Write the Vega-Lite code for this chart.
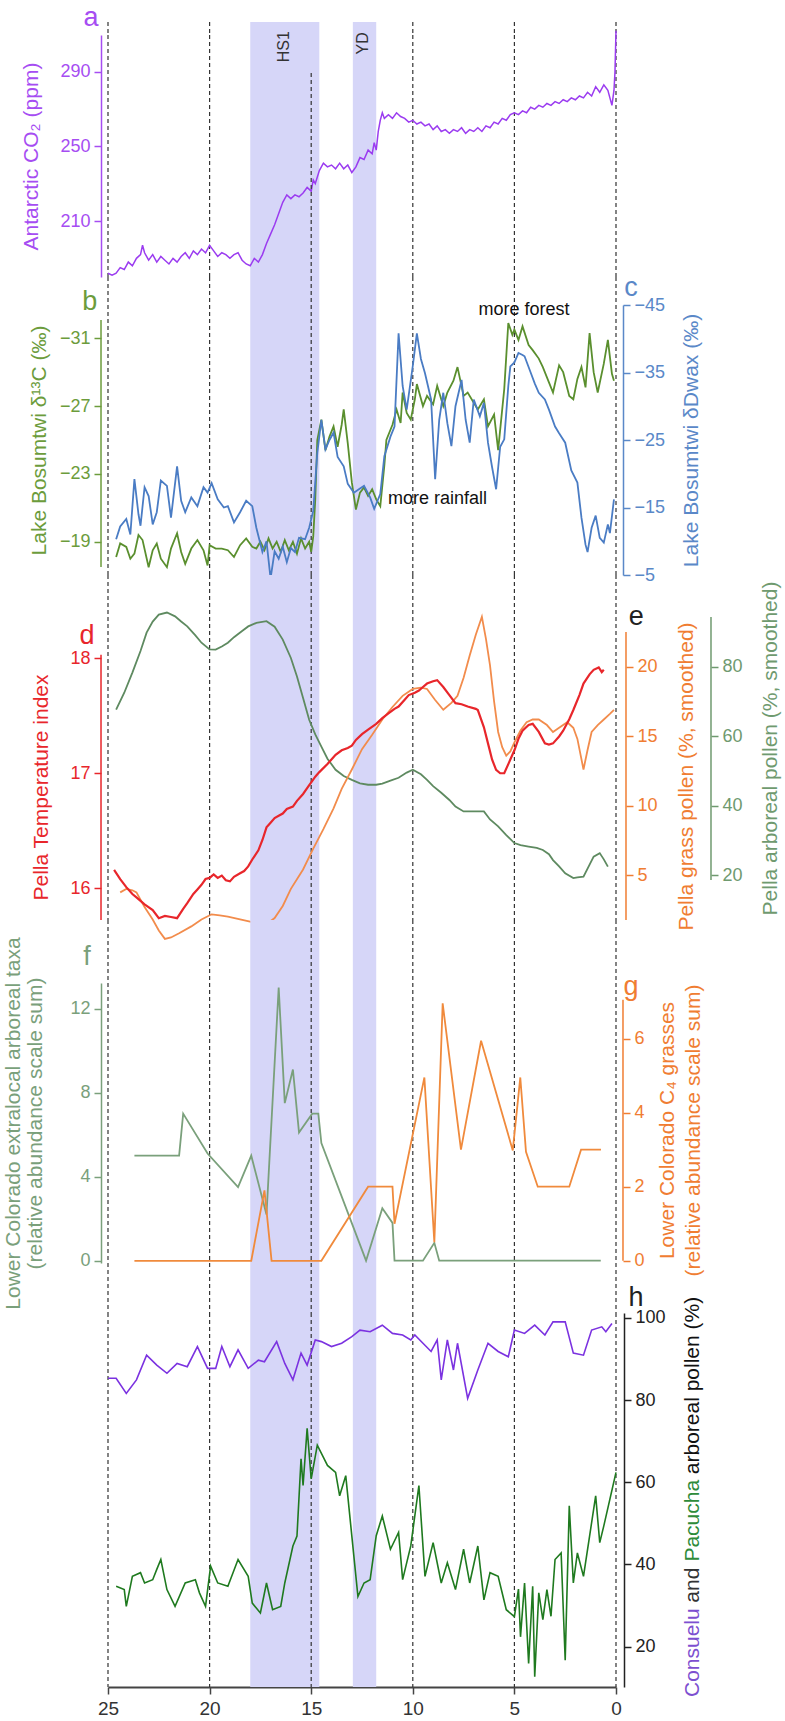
{
"$schema": "https://vega.github.io/schema/vega-lite/v6.json",
"padding": {"left": 2, "top": 4, "right": 5, "bottom": 0},
"spacing": 0,
"bounds": "flush",
"config": {"font": "Liberation Sans", "view": {"stroke": null}, "concat": {"spacing": 0},
  "axis": {"grid": false, "labelFontSize": 18, "titleFontSize": 21, "titleFontWeight": "normal", "tickSize": 7, "tickWidth": 1.5, "domainWidth": 1.5, "labelPadding": 4, "titlePadding": 8, "titleLineHeight": 23}},
"datasets": {
"bands": [{"age": 18, "end": 14.6}, {"age": 12.95, "end": 11.8}],
"grid": [{"age": 25}, {"age": 20}, {"age": 15}, {"age": 10}, {"age": 5}, {"age": 0}],
"co2": [{"age":25.0,"v":182},{"age":24.8,"v":181},{"age":24.6,"v":182},{"age":24.4,"v":185},{"age":24.2,"v":184},{"age":24.0,"v":188},{"age":23.8,"v":186},{"age":23.6,"v":190},{"age":23.4,"v":192},{"age":23.3,"v":197},{"age":23.2,"v":193},{"age":23.0,"v":189},{"age":22.8,"v":192},{"age":22.6,"v":188},{"age":22.4,"v":191},{"age":22.2,"v":189},{"age":22.0,"v":187},{"age":21.8,"v":190},{"age":21.6,"v":188},{"age":21.4,"v":191},{"age":21.2,"v":193},{"age":21.0,"v":190},{"age":20.8,"v":194},{"age":20.6,"v":192},{"age":20.4,"v":195},{"age":20.2,"v":193},{"age":20.0,"v":197},{"age":19.8,"v":194},{"age":19.6,"v":191},{"age":19.4,"v":193},{"age":19.2,"v":192},{"age":19.0,"v":190},{"age":18.8,"v":192},{"age":18.6,"v":193},{"age":18.4,"v":189},{"age":18.2,"v":187},{"age":18.0,"v":186},{"age":17.8,"v":190},{"age":17.6,"v":188},{"age":17.4,"v":192},{"age":17.2,"v":198},{"age":17.0,"v":203},{"age":16.8,"v":208},{"age":16.6,"v":214},{"age":16.4,"v":220},{"age":16.2,"v":224},{"age":16.0,"v":222},{"age":15.8,"v":224},{"age":15.6,"v":223},{"age":15.4,"v":225},{"age":15.2,"v":228},{"age":15.0,"v":226},{"age":14.9,"v":232},{"age":14.8,"v":230},{"age":14.6,"v":237},{"age":14.4,"v":241},{"age":14.2,"v":239},{"age":14.0,"v":240},{"age":13.8,"v":238},{"age":13.6,"v":241},{"age":13.4,"v":238},{"age":13.2,"v":240},{"age":13.0,"v":236},{"age":12.8,"v":239},{"age":12.6,"v":244},{"age":12.4,"v":243},{"age":12.2,"v":248},{"age":12.0,"v":246},{"age":11.9,"v":252},{"age":11.8,"v":248},{"age":11.7,"v":258},{"age":11.6,"v":264},{"age":11.5,"v":268},{"age":11.4,"v":265},{"age":11.2,"v":267},{"age":11.0,"v":265},{"age":10.8,"v":268},{"age":10.6,"v":266},{"age":10.4,"v":265},{"age":10.2,"v":263},{"age":10.0,"v":264},{"age":9.8,"v":262},{"age":9.6,"v":263},{"age":9.4,"v":261},{"age":9.2,"v":262},{"age":9.0,"v":259},{"age":8.8,"v":261},{"age":8.6,"v":258},{"age":8.4,"v":259},{"age":8.2,"v":257},{"age":8.0,"v":259},{"age":7.8,"v":258},{"age":7.6,"v":260},{"age":7.4,"v":257},{"age":7.2,"v":259},{"age":7.0,"v":258},{"age":6.8,"v":260},{"age":6.6,"v":258},{"age":6.4,"v":261},{"age":6.2,"v":260},{"age":6.0,"v":263},{"age":5.8,"v":262},{"age":5.6,"v":265},{"age":5.4,"v":264},{"age":5.2,"v":267},{"age":5.0,"v":268},{"age":4.8,"v":267},{"age":4.6,"v":269},{"age":4.4,"v":268},{"age":4.2,"v":271},{"age":4.0,"v":270},{"age":3.8,"v":272},{"age":3.6,"v":271},{"age":3.4,"v":273},{"age":3.2,"v":272},{"age":3.0,"v":274},{"age":2.8,"v":273},{"age":2.6,"v":275},{"age":2.4,"v":274},{"age":2.2,"v":276},{"age":2.0,"v":275},{"age":1.8,"v":277},{"age":1.6,"v":276},{"age":1.4,"v":279},{"age":1.2,"v":277},{"age":1.0,"v":282},{"age":0.8,"v":279},{"age":0.6,"v":283},{"age":0.4,"v":280},{"age":0.3,"v":276},{"age":0.2,"v":272},{"age":0.1,"v":280},{"age":0.05,"v":290},{"age":0.0,"v":312}],
"d13c": [{"age":24.6,"v":-18.1},{"age":24.4,"v":-18.9},{"age":24.1,"v":-18.7},{"age":23.9,"v":-18.0},{"age":23.7,"v":-18.3},{"age":23.5,"v":-19.4},{"age":23.3,"v":-19.1},{"age":23.0,"v":-17.5},{"age":22.8,"v":-18.5},{"age":22.6,"v":-18.9},{"age":22.4,"v":-18.0},{"age":22.1,"v":-17.5},{"age":21.9,"v":-18.6},{"age":21.6,"v":-19.5},{"age":21.4,"v":-18.4},{"age":21.2,"v":-17.7},{"age":20.9,"v":-18.6},{"age":20.6,"v":-19.1},{"age":20.3,"v":-18.5},{"age":20.1,"v":-17.6},{"age":20.0,"v":-18.8},{"age":19.7,"v":-18.6},{"age":19.4,"v":-18.6},{"age":19.1,"v":-18.5},{"age":18.8,"v":-18.1},{"age":18.5,"v":-18.8},{"age":18.2,"v":-19.2},{"age":17.9,"v":-18.7},{"age":17.7,"v":-18.6},{"age":17.5,"v":-19.0},{"age":17.3,"v":-18.5},{"age":17.1,"v":-19.2},{"age":16.9,"v":-18.6},{"age":16.7,"v":-19.0},{"age":16.5,"v":-18.4},{"age":16.3,"v":-19.1},{"age":16.1,"v":-18.5},{"age":15.9,"v":-19.0},{"age":15.7,"v":-18.3},{"age":15.5,"v":-19.2},{"age":15.3,"v":-18.6},{"age":15.1,"v":-19.0},{"age":15.0,"v":-18.4},{"age":14.9,"v":-19.3},{"age":14.8,"v":-21.5},{"age":14.7,"v":-25.0},{"age":14.5,"v":-26.2},{"age":14.3,"v":-24.4},{"age":14.1,"v":-25.2},{"age":13.9,"v":-25.8},{"age":13.7,"v":-24.6},{"age":13.5,"v":-25.9},{"age":13.4,"v":-26.8},{"age":13.2,"v":-24.8},{"age":13.0,"v":-22.5},{"age":12.8,"v":-20.9},{"age":12.6,"v":-21.9},{"age":12.4,"v":-22.2},{"age":12.2,"v":-21.7},{"age":12.0,"v":-22.1},{"age":11.8,"v":-21.5},{"age":11.6,"v":-21.1},{"age":11.4,"v":-23.5},{"age":11.3,"v":-25.0},{"age":11.0,"v":-25.9},{"age":10.8,"v":-26.8},{"age":10.6,"v":-26.0},{"age":10.5,"v":-27.8},{"age":10.3,"v":-26.6},{"age":10.1,"v":-26.2},{"age":9.9,"v":-27.4},{"age":9.8,"v":-28.3},{"age":9.5,"v":-27.0},{"age":9.3,"v":-27.6},{"age":9.0,"v":-27.1},{"age":8.8,"v":-28.2},{"age":8.5,"v":-27.0},{"age":8.3,"v":-27.8},{"age":8.0,"v":-28.5},{"age":7.8,"v":-29.3},{"age":7.5,"v":-27.6},{"age":7.3,"v":-27.8},{"age":7.0,"v":-27.2},{"age":6.8,"v":-26.8},{"age":6.5,"v":-27.4},{"age":6.3,"v":-25.8},{"age":6.0,"v":-26.5},{"age":5.8,"v":-24.4},{"age":5.5,"v":-28.0},{"age":5.3,"v":-31.9},{"age":5.1,"v":-31.2},{"age":5.0,"v":-31.5},{"age":4.8,"v":-30.9},{"age":4.6,"v":-31.7},{"age":4.3,"v":-30.6},{"age":4.1,"v":-30.3},{"age":3.8,"v":-29.8},{"age":3.6,"v":-29.3},{"age":3.3,"v":-28.4},{"age":3.1,"v":-27.8},{"age":2.8,"v":-29.4},{"age":2.6,"v":-29.0},{"age":2.3,"v":-27.6},{"age":2.1,"v":-27.4},{"age":1.9,"v":-28.6},{"age":1.7,"v":-29.3},{"age":1.5,"v":-28.1},{"age":1.3,"v":-31.3},{"age":1.1,"v":-29.0},{"age":0.9,"v":-27.8},{"age":0.6,"v":-29.5},{"age":0.4,"v":-30.9},{"age":0.2,"v":-28.9},{"age":0.1,"v":-28.5}],
"dD": [{"age":24.6,"v":-10.3},{"age":24.4,"v":-12.2},{"age":24.1,"v":-13.3},{"age":23.9,"v":-11.0},{"age":23.7,"v":-19.2},{"age":23.5,"v":-14.0},{"age":23.4,"v":-12.3},{"age":23.2,"v":-18.0},{"age":23.0,"v":-16.7},{"age":22.8,"v":-12.5},{"age":22.6,"v":-14.3},{"age":22.4,"v":-19.0},{"age":22.1,"v":-18.2},{"age":21.9,"v":-13.5},{"age":21.6,"v":-21.1},{"age":21.4,"v":-16.0},{"age":21.2,"v":-14.3},{"age":20.9,"v":-16.5},{"age":20.6,"v":-15.2},{"age":20.3,"v":-18.0},{"age":20.1,"v":-17.2},{"age":19.9,"v":-18.6},{"age":19.6,"v":-16.2},{"age":19.3,"v":-15.0},{"age":19.1,"v":-15.2},{"age":18.8,"v":-12.8},{"age":18.5,"v":-14.3},{"age":18.2,"v":-16.0},{"age":17.9,"v":-15.2},{"age":17.7,"v":-12.0},{"age":17.4,"v":-8.4},{"age":17.2,"v":-10.0},{"age":17.0,"v":-4.5},{"age":16.8,"v":-8.5},{"age":16.6,"v":-7.4},{"age":16.4,"v":-9.2},{"age":16.2,"v":-6.9},{"age":16.0,"v":-9.0},{"age":15.8,"v":-8.4},{"age":15.6,"v":-10.5},{"age":15.3,"v":-10.3},{"age":15.1,"v":-12.0},{"age":14.9,"v":-14.5},{"age":14.7,"v":-23.1},{"age":14.5,"v":-28.0},{"age":14.3,"v":-23.6},{"age":14.1,"v":-25.0},{"age":13.9,"v":-26.1},{"age":13.7,"v":-22.5},{"age":13.4,"v":-21.1},{"age":13.2,"v":-18.5},{"age":12.9,"v":-17.2},{"age":12.6,"v":-17.8},{"age":12.4,"v":-18.2},{"age":12.1,"v":-16.5},{"age":11.9,"v":-14.8},{"age":11.6,"v":-17.0},{"age":11.4,"v":-22.6},{"age":11.1,"v":-25.5},{"age":10.9,"v":-27.0},{"age":10.7,"v":-40.8},{"age":10.5,"v":-33.0},{"age":10.3,"v":-29.5},{"age":10.0,"v":-36.0},{"age":9.8,"v":-40.8},{"age":9.6,"v":-37.0},{"age":9.4,"v":-34.9},{"age":9.1,"v":-31.0},{"age":8.9,"v":-19.2},{"age":8.7,"v":-28.0},{"age":8.5,"v":-32.0},{"age":8.3,"v":-27.5},{"age":8.1,"v":-24.1},{"age":7.9,"v":-30.0},{"age":7.6,"v":-33.9},{"age":7.4,"v":-28.0},{"age":7.2,"v":-24.6},{"age":7.0,"v":-31.0},{"age":6.7,"v":-28.5},{"age":6.5,"v":-30.5},{"age":6.3,"v":-24.6},{"age":6.1,"v":-21.0},{"age":5.9,"v":-17.7},{"age":5.7,"v":-24.0},{"age":5.5,"v":-25.1},{"age":5.3,"v":-33.0},{"age":5.2,"v":-35.9},{"age":5.0,"v":-36.5},{"age":4.8,"v":-37.9},{"age":4.6,"v":-37.6},{"age":4.5,"v":-37.4},{"age":4.2,"v":-35.0},{"age":4.0,"v":-33.4},{"age":3.8,"v":-32.0},{"age":3.5,"v":-31.0},{"age":3.3,"v":-29.5},{"age":3.0,"v":-27.0},{"age":2.8,"v":-26.0},{"age":2.5,"v":-24.6},{"age":2.2,"v":-20.5},{"age":1.9,"v":-18.7},{"age":1.7,"v":-13.5},{"age":1.5,"v":-9.5},{"age":1.4,"v":-8.4},{"age":1.2,"v":-12.0},{"age":1.0,"v":-13.8},{"age":0.8,"v":-10.5},{"age":0.6,"v":-9.8},{"age":0.4,"v":-12.5},{"age":0.3,"v":-11.2},{"age":0.1,"v":-16.2}],
"ptemp": [{"age":24.7,"v":16.16},{"age":24.4,"v":16.08},{"age":24.1,"v":16.01},{"age":23.8,"v":15.95},{"age":23.6,"v":15.92},{"age":23.2,"v":15.86},{"age":22.8,"v":15.81},{"age":22.5,"v":15.74},{"age":22.2,"v":15.76},{"age":21.9,"v":15.75},{"age":21.6,"v":15.74},{"age":21.3,"v":15.82},{"age":21.1,"v":15.87},{"age":20.8,"v":15.95},{"age":20.6,"v":15.99},{"age":20.4,"v":16.03},{"age":20.2,"v":16.08},{"age":20.0,"v":16.09},{"age":19.8,"v":16.12},{"age":19.6,"v":16.09},{"age":19.4,"v":16.11},{"age":19.2,"v":16.07},{"age":19.0,"v":16.06},{"age":18.8,"v":16.1},{"age":18.5,"v":16.13},{"age":18.3,"v":16.15},{"age":18.1,"v":16.19},{"age":17.9,"v":16.25},{"age":17.6,"v":16.33},{"age":17.4,"v":16.42},{"age":17.2,"v":16.53},{"age":17.0,"v":16.57},{"age":16.8,"v":16.61},{"age":16.6,"v":16.63},{"age":16.4,"v":16.65},{"age":16.2,"v":16.69},{"age":15.9,"v":16.71},{"age":15.7,"v":16.76},{"age":15.4,"v":16.82},{"age":15.2,"v":16.87},{"age":15.0,"v":16.92},{"age":14.8,"v":16.97},{"age":14.6,"v":17.01},{"age":14.2,"v":17.08},{"age":13.8,"v":17.16},{"age":13.5,"v":17.2},{"age":13.2,"v":17.22},{"age":13.0,"v":17.24},{"age":12.8,"v":17.29},{"age":12.5,"v":17.34},{"age":12.2,"v":17.38},{"age":11.8,"v":17.43},{"age":11.5,"v":17.48},{"age":11.2,"v":17.52},{"age":10.9,"v":17.56},{"age":10.7,"v":17.58},{"age":10.4,"v":17.64},{"age":10.2,"v":17.68},{"age":9.9,"v":17.7},{"age":9.7,"v":17.72},{"age":9.5,"v":17.75},{"age":9.3,"v":17.78},{"age":9.0,"v":17.8},{"age":8.8,"v":17.81},{"age":8.5,"v":17.75},{"age":8.2,"v":17.68},{"age":7.9,"v":17.61},{"age":7.6,"v":17.6},{"age":7.3,"v":17.58},{"age":6.9,"v":17.56},{"age":6.8,"v":17.55},{"age":6.5,"v":17.4},{"age":6.3,"v":17.26},{"age":6.1,"v":17.12},{"age":5.9,"v":17.03},{"age":5.7,"v":17.0},{"age":5.5,"v":17.0},{"age":5.3,"v":17.08},{"age":5.0,"v":17.2},{"age":4.8,"v":17.3},{"age":4.6,"v":17.37},{"age":4.3,"v":17.42},{"age":4.1,"v":17.43},{"age":3.8,"v":17.36},{"age":3.5,"v":17.26},{"age":3.3,"v":17.25},{"age":3.1,"v":17.26},{"age":2.8,"v":17.32},{"age":2.6,"v":17.37},{"age":2.3,"v":17.47},{"age":2.1,"v":17.55},{"age":1.8,"v":17.68},{"age":1.6,"v":17.78},{"age":1.3,"v":17.86},{"age":1.1,"v":17.9},{"age":0.85,"v":17.92},{"age":0.7,"v":17.88},{"age":0.6,"v":17.9}],
"pgrass": [{"age":24.4,"v":3.75},{"age":24.1,"v":4.0},{"age":23.8,"v":3.9},{"age":23.6,"v":3.75},{"age":23.2,"v":2.7},{"age":22.8,"v":1.8},{"age":22.5,"v":1.0},{"age":22.2,"v":0.4},{"age":21.9,"v":0.5},{"age":21.5,"v":0.8},{"age":20.9,"v":1.3},{"age":20.4,"v":1.8},{"age":19.9,"v":2.17},{"age":19.5,"v":2.1},{"age":19.1,"v":2.0},{"age":18.5,"v":1.8},{"age":17.9,"v":1.6},{"age":17.5,"v":1.5},{"age":17.2,"v":1.45},{"age":16.8,"v":1.9},{"age":16.4,"v":2.77},{"age":16.0,"v":4.0},{"age":15.4,"v":5.4},{"age":14.9,"v":6.9},{"age":14.4,"v":8.3},{"age":13.9,"v":9.8},{"age":13.5,"v":11.2},{"age":13.0,"v":12.6},{"age":12.5,"v":14.06},{"age":12.0,"v":15.1},{"age":11.5,"v":16.2},{"age":11.0,"v":17.1},{"age":10.5,"v":17.9},{"age":10.0,"v":18.4},{"age":9.6,"v":18.5},{"age":9.3,"v":18.4},{"age":8.9,"v":17.6},{"age":8.5,"v":16.9},{"age":8.1,"v":17.4},{"age":7.8,"v":17.9},{"age":7.5,"v":19.2},{"age":7.2,"v":20.8},{"age":6.9,"v":22.3},{"age":6.6,"v":23.6},{"age":6.4,"v":22.0},{"age":6.2,"v":20.1},{"age":6.0,"v":17.5},{"age":5.8,"v":15.3},{"age":5.6,"v":14.2},{"age":5.4,"v":13.6},{"age":5.2,"v":13.9},{"age":5.0,"v":14.55},{"age":4.7,"v":15.4},{"age":4.4,"v":16.0},{"age":4.1,"v":16.2},{"age":3.8,"v":16.2},{"age":3.4,"v":15.8},{"age":3.1,"v":15.3},{"age":2.8,"v":15.6},{"age":2.4,"v":16.0},{"age":2.1,"v":15.6},{"age":1.9,"v":14.8},{"age":1.6,"v":12.6},{"age":1.4,"v":14.0},{"age":1.2,"v":15.3},{"age":0.9,"v":15.8},{"age":0.6,"v":16.2},{"age":0.3,"v":16.6},{"age":0.1,"v":16.9}],
"parb": [{"age":24.6,"v":67.6},{"age":24.2,"v":72.5},{"age":23.8,"v":78.3},{"age":23.4,"v":84.5},{"age":23.1,"v":89.8},{"age":22.8,"v":93.0},{"age":22.5,"v":95.0},{"age":22.1,"v":95.6},{"age":21.7,"v":94.5},{"age":21.4,"v":93.0},{"age":21.1,"v":91.6},{"age":20.7,"v":89.0},{"age":20.4,"v":86.9},{"age":20.0,"v":85.0},{"age":19.7,"v":84.9},{"age":19.4,"v":85.8},{"age":19.1,"v":86.9},{"age":18.8,"v":88.5},{"age":18.4,"v":90.3},{"age":18.1,"v":91.6},{"age":17.7,"v":92.6},{"age":17.2,"v":93.1},{"age":16.8,"v":91.5},{"age":16.4,"v":87.8},{"age":16.0,"v":82.5},{"age":15.7,"v":77.2},{"age":15.4,"v":71.0},{"age":15.1,"v":64.7},{"age":14.8,"v":60.5},{"age":14.5,"v":57.0},{"age":14.2,"v":53.5},{"age":13.8,"v":50.3},{"age":13.4,"v":48.5},{"age":13.0,"v":47.4},{"age":12.6,"v":46.4},{"age":12.2,"v":46.0},{"age":11.8,"v":46.0},{"age":11.5,"v":46.3},{"age":11.1,"v":47.2},{"age":10.7,"v":48.0},{"age":10.3,"v":49.5},{"age":10.0,"v":50.3},{"age":9.6,"v":49.0},{"age":9.3,"v":47.4},{"age":9.0,"v":45.6},{"age":8.6,"v":43.7},{"age":8.2,"v":41.6},{"age":7.9,"v":39.7},{"age":7.5,"v":38.3},{"age":7.2,"v":38.3},{"age":6.8,"v":38.3},{"age":6.5,"v":38.3},{"age":6.2,"v":36.0},{"age":5.8,"v":34.0},{"age":5.4,"v":31.5},{"age":5.0,"v":29.2},{"age":4.7,"v":28.6},{"age":4.3,"v":28.2},{"age":3.9,"v":27.8},{"age":3.6,"v":27.2},{"age":3.3,"v":26.0},{"age":3.1,"v":24.3},{"age":2.8,"v":22.5},{"age":2.5,"v":20.5},{"age":2.1,"v":19.1},{"age":1.9,"v":19.3},{"age":1.6,"v":19.5},{"age":1.3,"v":23.0},{"age":1.1,"v":25.3},{"age":0.8,"v":26.3},{"age":0.6,"v":24.5},{"age":0.4,"v":22.4}],
"lcarb": [{"age":23.7,"v":5.0},{"age":21.5,"v":5.0},{"age":21.3,"v":7.0},{"age":20.1,"v":5.1},{"age":18.6,"v":3.5},{"age":17.95,"v":5.0},{"age":17.2,"v":2.2},{"age":16.6,"v":13.0},{"age":16.3,"v":7.5},{"age":15.9,"v":9.1},{"age":15.6,"v":6.1},{"age":14.95,"v":7.0},{"age":14.65,"v":7.0},{"age":14.5,"v":5.6},{"age":12.3,"v":0},{"age":11.5,"v":2.5},{"age":11.0,"v":1.8},{"age":10.9,"v":0},{"age":9.5,"v":0},{"age":8.94,"v":0.85},{"age":8.7,"v":0},{"age":0.75,"v":0}],
"lcc4": [{"age":23.7,"v":0},{"age":17.95,"v":0},{"age":17.3,"v":1.9},{"age":16.95,"v":0},{"age":14.5,"v":0},{"age":12.2,"v":2.0},{"age":11.0,"v":2.0},{"age":10.9,"v":1.0},{"age":9.43,"v":4.95},{"age":8.94,"v":0.5},{"age":8.53,"v":6.95},{"age":7.63,"v":3.0},{"age":6.64,"v":5.94},{"age":5.08,"v":2.98},{"age":4.71,"v":4.95},{"age":4.43,"v":2.94},{"age":3.85,"v":2.0},{"age":2.3,"v":2.0},{"age":1.72,"v":3.0},{"age":0.74,"v":3.0}],
"consuelo": [{"age":25.0,"v":85.3},{"age":24.6,"v":85.3},{"age":24.1,"v":81.6},{"age":23.6,"v":84.9},{"age":23.1,"v":90.9},{"age":22.6,"v":88.5},{"age":22.1,"v":86.5},{"age":21.6,"v":88.9},{"age":21.1,"v":88.1},{"age":20.6,"v":93.0},{"age":20.1,"v":87.7},{"age":19.7,"v":87.7},{"age":19.4,"v":93.0},{"age":19.0,"v":88.1},{"age":18.6,"v":92.2},{"age":18.1,"v":87.7},{"age":17.6,"v":89.7},{"age":17.3,"v":89.3},{"age":16.7,"v":94.2},{"age":16.3,"v":88.9},{"age":15.9,"v":84.9},{"age":15.5,"v":91.4},{"age":15.2,"v":88.5},{"age":14.8,"v":94.6},{"age":14.5,"v":94.2},{"age":14.0,"v":93.0},{"age":13.5,"v":93.8},{"age":13.0,"v":95.4},{"age":12.6,"v":97.0},{"age":12.1,"v":96.6},{"age":11.5,"v":98.2},{"age":11.0,"v":96.2},{"age":10.5,"v":95.8},{"age":10.1,"v":94.6},{"age":9.9,"v":95.8},{"age":9.5,"v":93.8},{"age":9.1,"v":91.8},{"age":8.8,"v":94.6},{"age":8.6,"v":84.9},{"age":8.3,"v":94.6},{"age":8.0,"v":87.3},{"age":7.8,"v":93.8},{"age":7.3,"v":80.4},{"age":6.8,"v":87.3},{"age":6.3,"v":93.8},{"age":5.8,"v":91.8},{"age":5.3,"v":90.5},{"age":5.0,"v":97.0},{"age":4.5,"v":96.2},{"age":4.0,"v":98.2},{"age":3.5,"v":95.8},{"age":3.1,"v":99.0},{"age":2.5,"v":99.0},{"age":2.1,"v":91.4},{"age":1.6,"v":90.9},{"age":1.2,"v":97.0},{"age":0.7,"v":97.8},{"age":0.5,"v":96.6},{"age":0.2,"v":98.6}],
"pacucha": [{"age":24.6,"v":34.7},{"age":24.2,"v":33.9},{"age":24.1,"v":29.8},{"age":23.8,"v":37.1},{"age":23.4,"v":38.0},{"age":23.2,"v":35.5},{"age":22.8,"v":36.3},{"age":22.6,"v":38.8},{"age":22.4,"v":41.2},{"age":22.1,"v":33.9},{"age":21.7,"v":29.8},{"age":21.2,"v":35.5},{"age":20.7,"v":36.3},{"age":20.5,"v":33.1},{"age":20.2,"v":29.8},{"age":19.95,"v":39.6},{"age":19.6,"v":35.5},{"age":19.1,"v":34.7},{"age":18.6,"v":41.2},{"age":18.1,"v":37.1},{"age":17.9,"v":30.6},{"age":17.5,"v":28.2},{"age":17.2,"v":35.5},{"age":16.9,"v":29.0},{"age":16.5,"v":29.8},{"age":16.3,"v":35.5},{"age":15.9,"v":44.5},{"age":15.7,"v":46.9},{"age":15.5,"v":65.7},{"age":15.4,"v":59.2},{"age":15.2,"v":73.1},{"age":15.0,"v":60.8},{"age":14.7,"v":69.0},{"age":14.2,"v":64.1},{"age":13.8,"v":62.4},{"age":13.6,"v":56.7},{"age":13.3,"v":61.6},{"age":13.0,"v":46.9},{"age":12.7,"v":32.2},{"age":12.4,"v":35.5},{"age":12.1,"v":36.3},{"age":11.8,"v":47.0},{"age":11.5,"v":51.8},{"age":11.1,"v":43.7},{"age":10.7,"v":47.8},{"age":10.5,"v":36.3},{"age":10.1,"v":44.5},{"age":9.7,"v":59.2},{"age":9.4,"v":37.1},{"age":9.0,"v":45.3},{"age":8.6,"v":35.5},{"age":8.3,"v":40.4},{"age":7.9,"v":33.9},{"age":7.5,"v":43.7},{"age":7.2,"v":35.5},{"age":6.8,"v":44.5},{"age":6.5,"v":31.4},{"age":6.2,"v":38.0},{"age":5.8,"v":37.1},{"age":5.4,"v":29.0},{"age":5.0,"v":27.3},{"age":4.8,"v":34.0},{"age":4.7,"v":22.4},{"age":4.5,"v":35.5},{"age":4.3,"v":15.9},{"age":4.1,"v":34.7},{"age":4.0,"v":12.7},{"age":3.8,"v":33.1},{"age":3.6,"v":26.6},{"age":3.4,"v":33.9},{"age":3.2,"v":27.4},{"age":3.0,"v":41.2},{"age":2.7,"v":42.8},{"age":2.5,"v":16.7},{"age":2.3,"v":54.3},{"age":2.1,"v":35.5},{"age":1.9,"v":42.8},{"age":1.6,"v":37.1},{"age":1.3,"v":46.9},{"age":1.0,"v":56.7},{"age":0.8,"v":45.3},{"age":0.6,"v":49.4},{"age":0.3,"v":55.9},{"age":0.0,"v":62.4}]
},
"vconcat": [
{"width": 508, "height": 13,
 "encoding": {"x": {"field": "age", "type": "quantitative", "scale": {"domain": [25, 0], "nice": false, "zero": false}, "axis": null}},
 "layer": [
  {"data": {"name": "bands"}, "mark": {"type": "rect", "color": "#d6d6f8"}, "encoding": {"x2": {"field": "end"}}},
  {"data": {"name": "grid"}, "transform": [{"filter": "datum.age != 15"}], "mark": {"type": "rule", "color": "#333", "strokeDash": [4, 3], "strokeWidth": 1.2}, "encoding": {}}
 ]},
{"width": 508, "height": 242,
 "encoding": {"x": {"field": "age", "type": "quantitative", "scale": {"domain": [25, 0], "nice": false, "zero": false}, "axis": null}},
 "layer": [
  {"data": {"name": "bands"}, "mark": {"type": "rect", "color": "#d6d6f8"}, "encoding": {"x2": {"field": "end"}}},
  {"data": {"name": "grid"}, "transform": [{"filter": "datum.age != 15"}], "mark": {"type": "rule", "color": "#333", "strokeDash": [4, 3], "strokeWidth": 1.2}, "encoding": {}},
  {"data": {"name": "co2"}, "mark": {"type": "line", "color": "#9b3cf0", "strokeWidth": 1.5},
   "encoding": {"y": {"field": "v", "type": "quantitative", "scale": {"domain": [180, 309.7], "nice": false, "zero": false},
     "axis": {"orient": "left", "offset": 7, "values": [210, 250, 290], "title": "Antarctic CO₂ (ppm)", "titlePadding": 18, "domainColor": "#a64df2", "tickColor": "#a64df2", "labelColor": "#a64df2", "titleColor": "#a64df2"}}}},
  {"data": {"name": "grid"}, "transform": [{"filter": "datum.age == 15"}], "mark": {"type": "rule", "color": "#333", "strokeDash": [4, 3], "strokeWidth": 1.2}, "encoding": {"y": {"datum": 289.3}, "y2": {"datum": 180}}},
  {"data": {"name": "grid"}, "transform": [{"filter": "datum.age == 25"}], "mark": {"type": "text", "text": "a", "fontSize": 27, "color": "#a64df2"}, "encoding": {"x": {"datum": 25.84}, "y": {"datum": 318.8}}},
  {"data": {"name": "grid"}, "transform": [{"filter": "datum.age == 25"}], "mark": {"type": "text", "text": "HS1", "fontSize": 16, "angle": 270, "color": "#333"}, "encoding": {"x": {"datum": 16.32}, "y": {"datum": 303.4}}},
  {"data": {"name": "grid"}, "transform": [{"filter": "datum.age == 25"}], "mark": {"type": "text", "text": "YD", "fontSize": 16, "angle": 270, "color": "#333"}, "encoding": {"x": {"datum": 12.47}, "y": {"datum": 305.2}}}
 ]},
{"width": 508, "height": 28,
 "encoding": {"x": {"field": "age", "type": "quantitative", "scale": {"domain": [25, 0], "nice": false, "zero": false}, "axis": null}},
 "layer": [
  {"data": {"name": "bands"}, "mark": {"type": "rect", "color": "#d6d6f8"}, "encoding": {"x2": {"field": "end"}}},
  {"data": {"name": "grid"}, "mark": {"type": "rule", "color": "#333", "strokeDash": [4, 3], "strokeWidth": 1.2}, "encoding": {}}
 ]},
{"width": 508, "height": 270,
 "encoding": {"x": {"field": "age", "type": "quantitative", "scale": {"domain": [25, 0], "nice": false, "zero": false}, "axis": null}},
 "layer": [
  {"data": {"name": "bands"}, "mark": {"type": "rect", "color": "#d6d6f8"}, "encoding": {"x2": {"field": "end"}}},
  {"data": {"name": "grid"}, "mark": {"type": "rule", "color": "#333", "strokeDash": [4, 3], "strokeWidth": 1.2}, "encoding": {}},
  {"layer": [
    {"data": {"name": "d13c"}, "mark": {"type": "line", "color": "#5a8f2e", "strokeWidth": 1.8},
     "encoding": {"y": {"field": "v", "type": "quantitative", "scale": {"domain": [-32.96, -17.04], "reverse": true, "nice": false, "zero": false},
       "axis": {"orient": "left", "offset": 7, "domain": false, "values": [-31, -27, -23, -19], "title": "Lake Bosumtwi δ¹³C (‰)", "titlePadding": 10, "tickColor": "#6c9c3c", "labelColor": "#6c9c3c", "titleColor": "#6c9c3c"}}}},
    {"data": {"name": "grid"}, "transform": [{"filter": "datum.age == 25"}], "mark": {"type": "rule", "color": "#6c9c3c", "strokeWidth": 1.5}, "encoding": {"x": {"datum": 25.344}, "y": {"datum": -32.08}, "y2": {"datum": -17.51}}},
    {"data": {"name": "grid"}, "transform": [{"filter": "datum.age == 25"}], "mark": {"type": "text", "text": "b", "fontSize": 27, "color": "#6c9c3c"}, "encoding": {"x": {"datum": 25.9}, "y": {"datum": -33.16}}}
  ]},
  {"layer": [
    {"data": {"name": "dD"}, "mark": {"type": "line", "color": "#4a7cc4", "strokeWidth": 1.8},
     "encoding": {"y": {"field": "v", "type": "quantitative", "scale": {"domain": [-45, -5], "reverse": true, "nice": false, "zero": false},
       "axis": {"orient": "right", "offset": 7, "values": [-45, -35, -25, -15, -5], "title": "Lake Bosumtwi δDwax (‰)", "titlePadding": 16, "titleAngle": 270, "titleBaseline": "top", "domainColor": "#5a88c8", "tickColor": "#5a88c8", "labelColor": "#5a88c8", "titleColor": "#5a88c8"}}}},
    {"data": {"name": "grid"}, "transform": [{"filter": "datum.age == 25"}], "mark": {"type": "text", "text": "c", "fontSize": 27, "color": "#5a88c8"}, "encoding": {"x": {"datum": -0.74}, "y": {"datum": -47.5}}},
    {"data": {"name": "grid"}, "transform": [{"filter": "datum.age == 25"}], "mark": {"type": "text", "text": "more forest", "fontSize": 18, "color": "#111"}, "encoding": {"x": {"datum": 4.53}, "y": {"datum": -44.33}}},
    {"data": {"name": "grid"}, "transform": [{"filter": "datum.age == 25"}], "mark": {"type": "text", "text": "more rainfall", "fontSize": 18, "color": "#111"}, "encoding": {"x": {"datum": 8.78}, "y": {"datum": -16.2}}}
  ]}
 ],
 "resolve": {"scale": {"y": "independent"}}},
{"width": 508, "height": 42,
 "encoding": {"x": {"field": "age", "type": "quantitative", "scale": {"domain": [25, 0], "nice": false, "zero": false}, "axis": null}},
 "layer": [
  {"data": {"name": "bands"}, "mark": {"type": "rect", "color": "#d6d6f8"}, "encoding": {"x2": {"field": "end"}}},
  {"data": {"name": "grid"}, "mark": {"type": "rule", "color": "#333", "strokeDash": [4, 3], "strokeWidth": 1.2}, "encoding": {}}
 ]},
{"width": 508, "height": 303,
 "encoding": {"x": {"field": "age", "type": "quantitative", "scale": {"domain": [25, 0], "nice": false, "zero": false}, "axis": null}},
 "layer": [
  {"data": {"name": "bands"}, "mark": {"type": "rect", "color": "#d6d6f8"}, "encoding": {"x2": {"field": "end"}}},
  {"data": {"name": "grid"}, "mark": {"type": "rule", "color": "#333", "strokeDash": [4, 3], "strokeWidth": 1.2}, "encoding": {}},
  {"layer": [
    {"data": {"name": "parb"}, "mark": {"type": "line", "color": "#5e8a60", "strokeWidth": 1.8},
     "encoding": {"y": {"field": "v", "type": "quantitative", "scale": {"domain": [7.04, 94.31], "nice": false, "zero": false},
       "axis": {"orient": "right", "offset": 95, "domain": false, "values": [20, 40, 60, 80], "title": "Pella arboreal pollen (%, smoothed)", "titlePadding": 17, "titleAngle": 270, "titleBaseline": "top", "titleY": 131, "tickColor": "#6f9a6f", "labelColor": "#6f9a6f", "titleColor": "#6f9a6f"}}}},
    {"data": {"name": "grid"}, "transform": [{"filter": "datum.age == 25"}], "mark": {"type": "rule", "color": "#6f9a6f", "strokeWidth": 1.5}, "encoding": {"x": {"datum": -4.675}, "y": {"datum": 94.31}, "y2": {"datum": 18.56}}}
  ]},
  {"layer": [
    {"data": {"name": "pgrass"}, "mark": {"type": "line", "color": "#f28c4c", "strokeWidth": 1.8},
     "encoding": {"y": {"field": "v", "type": "quantitative", "scale": {"domain": [1.76, 23.58], "nice": false, "zero": false},
       "axis": {"orient": "right", "offset": 10, "domain": false, "values": [5, 10, 15, 20], "title": "Pella grass pollen (%, smoothed)", "titlePadding": 18, "titleAngle": 270, "titleBaseline": "top", "titleY": 159, "tickColor": "#f07d32", "labelColor": "#f07d32", "titleColor": "#f07d32"}}}},
    {"data": {"name": "grid"}, "transform": [{"filter": "datum.age == 25"}], "mark": {"type": "rule", "color": "#f07d32", "strokeWidth": 1.5}, "encoding": {"x": {"datum": -0.492}, "y": {"datum": 22.5}, "y2": {"datum": 1.76}}},
    {"data": {"name": "grid"}, "transform": [{"filter": "datum.age == 25"}], "mark": {"type": "text", "text": "e", "fontSize": 27, "color": "#222"}, "encoding": {"x": {"datum": -1.0}, "y": {"datum": 23.6}}}
  ]},
  {"layer": [
    {"data": {"name": "ptemp"}, "mark": {"type": "line", "color": "#e8262b", "strokeWidth": 2.2},
     "encoding": {"y": {"field": "v", "type": "quantitative", "scale": {"domain": [15.724, 18.359], "nice": false, "zero": false},
       "axis": {"orient": "left", "offset": 7, "domain": false, "values": [16, 17, 18], "format": "d", "title": "Pella Temperature index", "titlePadding": 18, "titleY": 170, "tickColor": "#e8262b", "labelColor": "#e8262b", "titleColor": "#e8262b"}}}},
    {"data": {"name": "grid"}, "transform": [{"filter": "datum.age == 25"}], "mark": {"type": "rule", "color": "#e8262b", "strokeWidth": 1.5}, "encoding": {"x": {"datum": 25.344}, "y": {"datum": 18.03}, "y2": {"datum": 15.724}}},
    {"data": {"name": "grid"}, "transform": [{"filter": "datum.age == 25"}], "mark": {"type": "text", "text": "d", "fontSize": 27, "color": "#e8262b"}, "encoding": {"x": {"datum": 26.03}, "y": {"datum": 18.19}}}
  ]}
 ],
 "resolve": {"scale": {"y": "independent"}}},
{"width": 508, "height": 63,
 "encoding": {"x": {"field": "age", "type": "quantitative", "scale": {"domain": [25, 0], "nice": false, "zero": false}, "axis": null}},
 "layer": [
  {"data": {"name": "bands"}, "mark": {"type": "rect", "color": "#d6d6f8"}, "encoding": {"x2": {"field": "end"}}},
  {"data": {"name": "grid"}, "mark": {"type": "rule", "color": "#333", "strokeDash": [4, 3], "strokeWidth": 1.2}, "encoding": {}}
 ]},
{"width": 508, "height": 280,
 "encoding": {"x": {"field": "age", "type": "quantitative", "scale": {"domain": [25, 0], "nice": false, "zero": false}, "axis": null}},
 "layer": [
  {"data": {"name": "bands"}, "mark": {"type": "rect", "color": "#d6d6f8"}, "encoding": {"x2": {"field": "end"}}},
  {"data": {"name": "grid"}, "mark": {"type": "rule", "color": "#333", "strokeDash": [4, 3], "strokeWidth": 1.2}, "encoding": {}},
  {"layer": [
    {"data": {"name": "lcarb"}, "mark": {"type": "line", "color": "#7aa07b", "strokeWidth": 1.8},
     "encoding": {"y": {"field": "v", "type": "quantitative", "scale": {"domain": [-0.11, 13.22], "nice": false, "zero": false},
       "axis": {"orient": "left", "offset": 7, "values": [0, 4, 8, 12], "title": ["Lower Colorado extralocal arboreal taxa", "(relative abundance scale sum)"], "titlePadding": 24, "titleLineHeight": 22, "domainColor": "#7aa07b", "tickColor": "#7aa07b", "labelColor": "#7aa07b", "titleColor": "#7aa07b"}}}},
    {"data": {"name": "grid"}, "transform": [{"filter": "datum.age == 25"}], "mark": {"type": "text", "text": "f", "fontSize": 27, "color": "#7aa07b"}, "encoding": {"x": {"datum": 26.03}, "y": {"datum": 14.48}}}
  ]},
  {"layer": [
    {"data": {"name": "lcc4"}, "mark": {"type": "line", "color": "#f08a3c", "strokeWidth": 1.8},
     "encoding": {"y": {"field": "v", "type": "quantitative", "scale": {"domain": [-0.06, 7.5], "nice": false, "zero": false},
       "axis": {"orient": "right", "offset": 7, "domain": false, "values": [0, 2, 4, 6], "title": ["Lower Colorado C₄ grasses", "(relative abundance scale sum)"], "titlePadding": -14, "titleLineHeight": 26, "titleAngle": 270, "titleBaseline": "top", "titleY": 147, "tickColor": "#f07d32", "labelColor": "#f07d32", "titleColor": "#f07d32"}}}},
    {"data": {"name": "grid"}, "transform": [{"filter": "datum.age == 25"}], "mark": {"type": "rule", "color": "#f07d32", "strokeWidth": 1.5}, "encoding": {"x": {"datum": -0.344}, "y": {"datum": 7.05}, "y2": {"datum": 0}}},
    {"data": {"name": "grid"}, "transform": [{"filter": "datum.age == 25"}], "mark": {"type": "text", "text": "g", "fontSize": 27, "color": "#f07d32"}, "encoding": {"x": {"datum": -0.74}, "y": {"datum": 7.4}}}
  ]}
 ],
 "resolve": {"scale": {"y": "independent"}}},
{"width": 508, "height": 50,
 "encoding": {"x": {"field": "age", "type": "quantitative", "scale": {"domain": [25, 0], "nice": false, "zero": false}, "axis": null}},
 "layer": [
  {"data": {"name": "bands"}, "mark": {"type": "rect", "color": "#d6d6f8"}, "encoding": {"x2": {"field": "end"}}},
  {"data": {"name": "grid"}, "mark": {"type": "rule", "color": "#333", "strokeDash": [4, 3], "strokeWidth": 1.2}, "encoding": {}}
 ]},
{"width": 508, "height": 374,
 "encoding": {"x": {"field": "age", "type": "quantitative", "scale": {"domain": [25, 0], "nice": false, "zero": false},
   "axis": {"values": [25, 20, 15, 10, 5, 0], "title": null, "domainColor": "#444", "domainWidth": 2, "tickColor": "#444", "tickWidth": 1.5, "tickSize": 7, "labelFontSize": 19, "labelColor": "#333", "labelPadding": 5, "labelFlush": false}}},
 "layer": [
  {"data": {"name": "bands"}, "mark": {"type": "rect", "color": "#d6d6f8"}, "encoding": {"x2": {"field": "end"}}},
  {"data": {"name": "grid"}, "mark": {"type": "rule", "color": "#333", "strokeDash": [4, 3], "strokeWidth": 1.2}, "encoding": {}},
  {"data": {"name": "consuelo"}, "mark": {"type": "line", "color": "#7b32e0", "strokeWidth": 1.6},
   "encoding": {"y": {"field": "v", "type": "quantitative", "scale": {"domain": [10.2, 101.16], "nice": false, "zero": false},
     "axis": {"orient": "right", "offset": 8, "values": [20, 40, 60, 80, 100], "title": null, "domainColor": "#222", "tickColor": "#222", "labelColor": "#222"}}}},
  {"data": {"name": "pacucha"}, "mark": {"type": "line", "color": "#1f7a1f", "strokeWidth": 1.6}, "encoding": {"y": {"field": "v", "type": "quantitative"}}},
  {"data": {"name": "grid"}, "transform": [{"filter": "datum.age == 25"}], "mark": {"type": "text", "text": "h", "fontSize": 27, "color": "#222"}, "encoding": {"x": {"datum": -0.98}, "y": {"datum": 104.8}}},
  {"data": {"name": "grid"}, "transform": [{"filter": "datum.age == 25"}], "mark": {"type": "text", "text": "Consuelu", "fontSize": 21, "angle": 270, "align": "left", "baseline": "middle", "color": "#7d4fd0"}, "encoding": {"x": {"datum": -3.79}, "y": {"datum": 7.76}}},
  {"data": {"name": "grid"}, "transform": [{"filter": "datum.age == 25"}], "mark": {"type": "text", "text": "and", "fontSize": 21, "angle": 270, "align": "left", "baseline": "middle", "color": "#333"}, "encoding": {"x": {"datum": -3.79}, "y": {"datum": 30.7}}},
  {"data": {"name": "grid"}, "transform": [{"filter": "datum.age == 25"}], "mark": {"type": "text", "text": "Pacucha", "fontSize": 21, "angle": 270, "align": "left", "baseline": "middle", "color": "#2e8b3a"}, "encoding": {"x": {"datum": -3.79}, "y": {"datum": 40.7}}},
  {"data": {"name": "grid"}, "transform": [{"filter": "datum.age == 25"}], "mark": {"type": "text", "text": "arboreal pollen (%)", "fontSize": 21, "angle": 270, "align": "left", "baseline": "middle", "color": "#111"}, "encoding": {"x": {"datum": -3.79}, "y": {"datum": 61.95}}}
 ]}
]
}
